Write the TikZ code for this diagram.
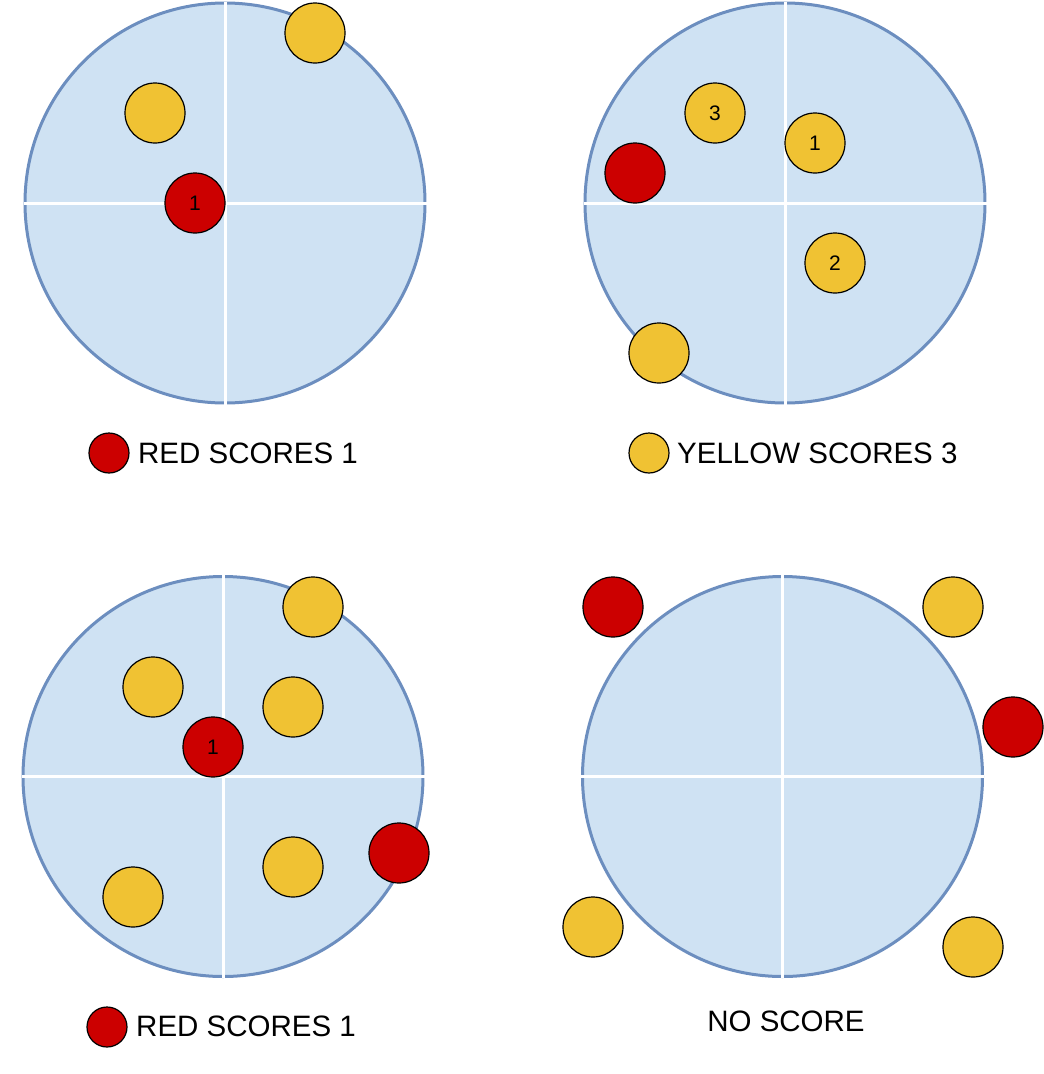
\documentclass[tikz,border=0pt]{standalone}
\usepackage{fontspec}
\setmainfont{Liberation Sans}
\definecolor{tfill}{HTML}{CFE2F3}
\definecolor{tline}{HTML}{6C8EBF}
\definecolor{rball}{HTML}{CC0000}
\definecolor{yball}{HTML}{F0C233}
\tikzset{
  target/.style={circle, draw=tline, fill=tfill, line width=3pt, minimum size=400pt, inner sep=0pt},
  crossline/.style={draw=white, line width=3pt},
  ball/.style={circle, draw=black, line width=1.2pt, minimum size=60pt, inner sep=0pt, font=\fontsize{21}{21}\selectfont},
  redball/.style={ball, fill=rball},
  yelball/.style={ball, fill=yball},
  legball/.style={circle, draw=black, line width=1.2pt, minimum size=40pt, inner sep=0pt},
  legtext/.style={anchor=west, inner sep=0pt, font=\fontsize{29.5}{29.5}\selectfont}
}
\begin{document}
\begin{tikzpicture}[x=1pt,y=-1pt]
\useasboundingbox (0,0) rectangle (1044,1074);
% targets
\node[target] (t1) at (225,203) {};
\node[target] (t2) at (785,203) {};
\node[target] (t3) at (223,776.5) {};
\node[target] (t4) at (782.5,776.5) {};
\foreach \t in {t1,t2,t3,t4}{
  \draw[crossline] (\t.west) -- (\t.east);
  \draw[crossline] (\t.north) -- (\t.south);
}
% panel 1
\node[yelball] (a1) at (315,33) {};
\node[yelball] (a2) at (155,113) {};
\node[redball] (a3) at (195,203) {1};
\node[legball, fill=rball] (la) at (109,453) {};
\node[legtext] (lat) at (138,453.5) {RED SCORES 1};
% panel 2
\node[yelball] (b1) at (715,113) {3};
\node[yelball] (b2) at (815,143) {1};
\node[redball] (b3) at (635,173) {};
\node[yelball] (b4) at (835,263) {2};
\node[yelball] (b5) at (659,353) {};
\node[legball, fill=yball] (lb) at (649,453) {};
\node[legtext] (lbt) at (677,453.5) {YELLOW SCORES 3};
% panel 3
\node[yelball] (c1) at (313,607) {};
\node[yelball] (c2) at (153,687) {};
\node[yelball] (c3) at (293,707) {};
\node[redball] (c4) at (213,747) {1};
\node[yelball] (c5) at (293,867) {};
\node[redball] (c6) at (399,853) {};
\node[yelball] (c7) at (133,897) {};
\node[legball, fill=rball] (lc) at (107,1027) {};
\node[legtext] (lct) at (136,1026.5) {RED SCORES 1};
% panel 4
\node[redball] (d1) at (613,607) {};
\node[yelball] (d2) at (953,607) {};
\node[redball] (d3) at (1013,727) {};
\node[yelball] (d4) at (593,927) {};
\node[yelball] (d5) at (973,947) {};
\node[inner sep=0pt, font=\fontsize{29.5}{29.5}\selectfont] (ld) at (786,1021.5) {NO SCORE};
\end{tikzpicture}
\end{document}
